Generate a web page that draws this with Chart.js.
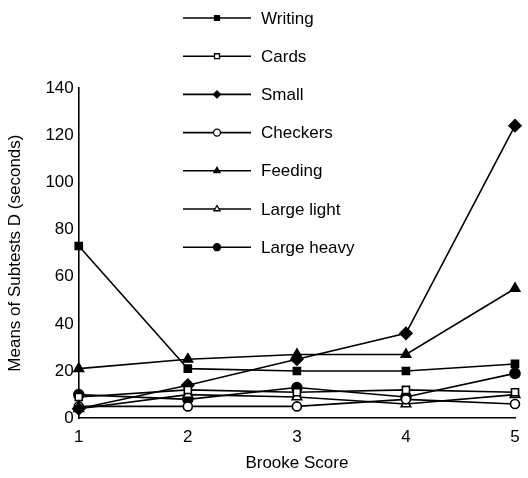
<!DOCTYPE html>
<html>
<head>
<meta charset="utf-8">
<script src="https://cdn.jsdelivr.net/npm/chart.js@4.4.1/dist/chart.umd.min.js"></script>
<style>
  html, body { margin: 0; padding: 0; background: #fff; }
  #wrap { width: 528px; height: 478px; }
</style>
</head>
<body>
<div id="wrap"><canvas id="brookeChart" width="528" height="478"></canvas></div>
<script>
const brookeScores = [1, 2, 3, 4, 5];
const yTicks = [0, 20, 40, 60, 80, 100, 120, 140];

const writing = [73, 21, 20, 20, 23];
const cards = [9, 12, 11, 12, 11];
const small = [4, 14, 25, 36, 124];
const checkers = [5, 5, 5, 8, 6];
const feeding = [21, 25, 27, 27, 55];
const largeLight = [4, 10, 9, 6, 10];
const largeHeavy = [10, 8, 13, 9, 19];

const font = "'Liberation Sans', Arial, sans-serif";

function series(label, data, pointStyle, filled, radius) {
  return {
    label: label,
    data: data,
    borderColor: '#000',
    borderWidth: 1.6,
    pointStyle: pointStyle,
    pointRadius: radius || 5,
    pointBorderWidth: 1.6,
    pointBorderColor: '#000',
    pointBackgroundColor: filled ? '#000' : '#fff',
    tension: 0,
    fill: false,
  };
}

// vertical legend with long line segments, drawn over the upper part of the plot
const sideLegend = {
  id: 'sideLegend',
  afterDraw(chart) {
    const ctx = chart.ctx;
    const x0 = 183, x1 = 251, xm = 217, xt = 261, y0 = 18, dy = 38.2;
    chart.data.datasets.forEach((ds, i) => {
      const y = y0 + i * dy;
      ctx.save();
      ctx.strokeStyle = '#000';
      ctx.lineWidth = 1.6;
      ctx.beginPath();
      ctx.moveTo(x0, y);
      ctx.lineTo(x1, y);
      ctx.stroke();
      ctx.fillStyle = ds.pointBackgroundColor;
      ctx.lineWidth = 1.3;
      Chart.helpers.drawPoint(ctx, { pointStyle: ds.pointStyle, radius: 3.5, rotation: 0, borderWidth: 1.3 }, xm, y);
      ctx.fillStyle = '#000';
      ctx.font = '17px ' + font;
      ctx.textAlign = 'left';
      ctx.textBaseline = 'middle';
      ctx.fillText(ds.label, xt, y + 1);
      ctx.restore();
    });
  }
};

new Chart(document.getElementById('brookeChart'), {
  type: 'line',
  data: {
    labels: brookeScores,
    datasets: [
      series('Writing', writing, 'rect', true, 5),
      series('Cards', cards, 'rect', false, 5),
      series('Small', small, 'rectRot', true, 6),
      series('Checkers', checkers, 'circle', false, 4.5),
      series('Feeding', feeding, 'triangle', true, 5.5),
      series('Large light', largeLight, 'triangle', false, 5.5),
      series('Large heavy', largeHeavy, 'circle', true, 5),
    ],
  },
  options: {
    responsive: false,
    animation: false,
    layout: { padding: { top: 88, right: 13, bottom: 0, left: 5 } },
    plugins: {
      legend: { display: false },
      tooltip: { enabled: false },
    },
    scales: {
      x: {
        offset: false,
        grid: { display: false, drawTicks: true, tickLength: 5, tickColor: '#000' },
        border: { color: '#000', width: 1.6 },
        ticks: { color: '#000', font: { family: font, size: 17 }, padding: 4 },
        title: { display: true, text: 'Brooke Score', color: '#000', font: { family: font, size: 17 }, padding: { top: 2 } },
      },
      y: {
        min: 0,
        max: 140,
        afterBuildTicks(axis) { axis.ticks = yTicks.map(v => ({ value: v })); },
        grid: { display: false, drawTicks: true, tickLength: 4, tickColor: '#000' },
        border: { color: '#000', width: 1.6 },
        ticks: { color: '#000', font: { family: font, size: 17 }, padding: 1 },
        title: { display: true, text: 'Means of Subtests D (seconds)', color: '#000', font: { family: font, size: 17 }, padding: { top: 0, bottom: 19 } },
      },
    },
  },
  plugins: [sideLegend],
});
</script>
</body>
</html>
